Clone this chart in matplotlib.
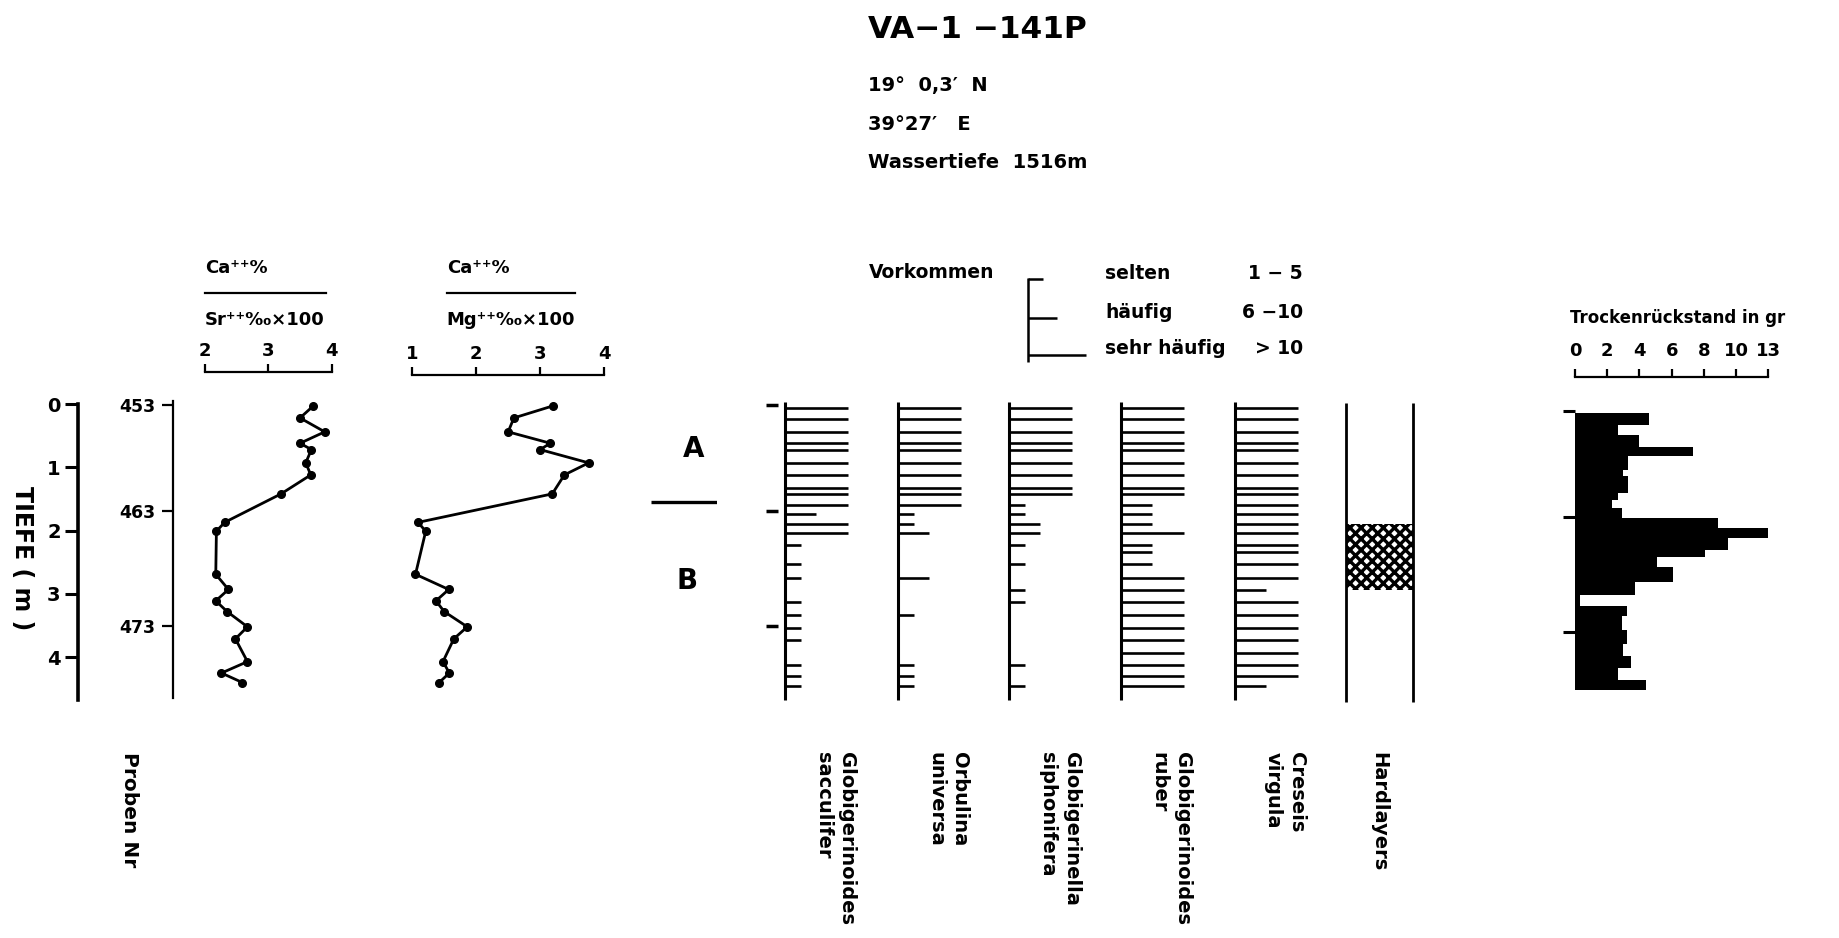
"""Kernprofil VA-1-141P: Geochemie, Faunenvorkommen, Hardlayers und Trockenrückstand."""
import matplotlib
matplotlib.use("Agg")
import matplotlib.pyplot as plt
import numpy as np
from matplotlib.lines import Line2D

plt.rcParams["font.family"] = ["DejaVu Sans"]
plt.rcParams["font.weight"] = "bold"
plt.rcParams["hatch.linewidth"] = 2.4
plt.rcParams["hatch.color"] = "black"

# --- Daten ------------------------------------------------------------------
DEPTH_TICKS = [0, 1, 2, 3, 4]
PROBEN_LABELS = ["453", "463", "473"]
PROBEN_TICK_DEPTH = [0.02, 1.69, 3.51]

# Tiefe jeder Probe (m), Proben 453 ... 478
SAMPLE_DEPTH = [0.06, 0.24, 0.44, 0.62, 0.73, 0.93, 1.12, 1.33, 1.42, 1.60,
                1.74, 1.90, 2.04, 2.23, 2.34, 2.53, 2.75, 2.94, 3.13, 3.33,
                3.54, 3.73, 3.93, 4.12, 4.30, 4.45]

# Geochemie (Teilmenge der Proben)
CHEM_DEPTH = [0.03, 0.22, 0.44, 0.62, 0.72, 0.93, 1.12, 1.42, 1.87, 2.01,
              2.69, 2.93, 3.11, 3.28, 3.52, 3.71, 4.07, 4.25, 4.40]
SR_RATIO = [3.71, 3.50, 3.89, 3.50, 3.68, 3.59, 3.67, 3.20, 2.31, 2.18,
            2.17, 2.37, 2.17, 2.35, 2.67, 2.48, 2.67, 2.26, 2.59]
MG_RATIO = [3.20, 2.59, 2.50, 3.16, 3.00, 3.76, 3.38, 3.19, 1.09, 1.21,
            1.05, 1.57, 1.37, 1.50, 1.86, 1.65, 1.48, 1.58, 1.42]

# Vorkommen: 0 = fehlt, 1 = selten, 2 = häufig, 3 = sehr häufig
SACCULIFER = [3, 3, 3, 3, 3, 3, 3, 3, 3, 3, 2, 3, 3, 1, 0, 1, 1, 0, 1, 1, 1, 1, 0, 1, 1, 1]
UNIVERSA = [3, 3, 3, 3, 3, 3, 3, 3, 3, 3, 1, 1, 2, 0, 0, 0, 2, 0, 0, 1, 0, 0, 0, 1, 1, 1]
SIPHONIFERA = [3, 3, 3, 3, 3, 3, 3, 3, 3, 1, 1, 2, 2, 1, 0, 1, 0, 1, 1, 0, 0, 0, 0, 1, 0, 1]
RUBER = [3, 3, 3, 3, 3, 3, 3, 3, 3, 2, 2, 2, 3, 2, 2, 2, 3, 3, 3, 3, 3, 3, 3, 3, 3, 3]
CRESEIS = [3, 3, 3, 3, 3, 3, 3, 3, 3, 3, 3, 3, 3, 3, 3, 3, 3, 2, 3, 3, 3, 3, 3, 3, 3, 2]
SPECIES = ["Globigerinoides\nsacculifer", "Orbulina\nuniversa",
           "Globigerinella\nsiphonifera", "Globigerinoides\nruber",
           "Creseis\nvirgula"]

LEGEND_CLASSES = ["selten", "häufig", "sehr häufig"]
LEGEND_RANGES = ["1 − 5", "6 −10", "> 10"]

HARD_TOP, HARD_BOTTOM = 1.89, 2.94
ZONE_BOUNDARY = 1.55

# Trockenrückstand (gr), Stufen zwischen TR_EDGES
TR_EDGES = [0.05, 0.24, 0.39, 0.58, 0.72, 0.95, 1.05, 1.31, 1.42, 1.55, 1.70,
            1.86, 2.03, 2.21, 2.32, 2.48, 2.71, 2.92, 3.10, 3.26, 3.48, 3.69,
            3.89, 4.08, 4.27, 4.42]
TR_VALUES = [4.6, 2.7, 4.0, 7.3, 3.3, 3.0, 3.3, 2.7, 2.3, 2.9, 8.9, 13.0, 9.5,
             8.1, 5.1, 6.1, 3.7, 0.3, 3.2, 2.9, 3.2, 3.0, 3.5, 2.7, 4.4]
TR_TICKS = [0, 2, 4, 6, 8, 10, 13]

# --- Layout ------------------------------------------------------------------
W, H = 1840, 938
S = 63.3          # Pixel pro Meter
Y0 = 404          # Pixelzeile von Tiefe 0
LEN = {1: 16, 2: 31, 3: 63}   # Strichlänge je Häufigkeitsklasse (px)

fig = plt.figure(figsize=(W / 100, H / 100), dpi=100)
fig.patch.set_facecolor("white")


def px_axes(x0, y0, x1, y1):
    return fig.add_axes([x0 / W, 1 - y1 / H, (x1 - x0) / W, (y1 - y0) / H])


def depth_axes(x0, x1, top=395, bottom=705, zero=Y0):
    ax = px_axes(x0, top, x1, bottom)
    ax.set_ylim((bottom - zero) / S, (top - zero) / S)
    for sp in ax.spines.values():
        sp.set_visible(False)
    ax.set_xticks([])
    ax.set_yticks([])
    ax.patch.set_alpha(0)
    return ax


def ftext(x, y, s, **kw):
    kw.setdefault("va", "center")
    return fig.text(x / W, 1 - y / H, s, **kw)


def fline(x0, x1, y, lw=1.6):
    fig.add_artist(Line2D([x0 / W, x1 / W], [1 - y / H, 1 - y / H],
                          color="black", lw=lw))


# Titel und Kopfdaten
ftext(868, 30, "VA−1 −141P", fontsize=22.5)
ftext(868, 85, "19°  0,3′  N", fontsize=14)
ftext(868, 124, "39°27′   E", fontsize=14)
ftext(868, 163, "Wassertiefe  1516m", fontsize=14)

# Tiefenachse
ax = depth_axes(78, 80)
ax.spines["left"].set_visible(True)
ax.spines["left"].set_linewidth(2.6)
ax.spines["left"].set_bounds(0, 4.67)
ax.set_yticks(DEPTH_TICKS)
ax.tick_params(axis="y", length=9.5, width=2.2, labelsize=14, pad=3)
ftext(22, 558, "TIEFE ( m )", fontsize=17, rotation=-90, ha="center")

# Probennummern
ax = depth_axes(173, 175)
ax.spines["left"].set_visible(True)
ax.spines["left"].set_linewidth(1.6)
ax.spines["left"].set_bounds(-0.04, 4.64)
ax.set_yticks(PROBEN_TICK_DEPTH)
ax.set_yticklabels(PROBEN_LABELS)
ax.tick_params(axis="y", length=8, width=1.6, labelsize=12.5, pad=5)
ftext(130, 752, "Proben Nr", fontsize=14.5, rotation=-90, ha="center", va="top")


def ratio_panel(x0, x1, lim, ticks, values, top, header_x, header_x1, denom):
    ax = depth_axes(x0, x1, top=top)
    ax.set_xlim(*lim)
    ax.spines["top"].set_visible(True)
    ax.spines["top"].set_linewidth(1.6)
    ax.xaxis.tick_top()
    ax.set_xticks(ticks)
    ax.tick_params(axis="x", direction="out", length=5.5, width=1.6,
                   labelsize=13, pad=3)
    ax.plot(values, CHEM_DEPTH, "-o", color="black", lw=2.0, ms=5.5,
            clip_on=False)
    ftext(header_x, 268, "Ca⁺⁺%", fontsize=13)
    fline(header_x, header_x1, 292.7)
    ftext(header_x, 320, denom, fontsize=13)


ratio_panel(205, 331.7, (2, 4), [2, 3, 4], SR_RATIO, 372, 205, 325.7, "Sr⁺⁺‰×100")
ratio_panel(412.3, 604, (1, 4), [1, 2, 3, 4], MG_RATIO, 375, 446.7, 575, "Mg⁺⁺‰×100")

# Zonen A / B
ax = depth_axes(651, 717)
ax.set_xlim(0, 1)
ax.hlines(ZONE_BOUNDARY, 0, 1, color="black", lw=2.4)
ax.text(0.64, 0.71, "A", fontsize=20, ha="center", va="center")
ax.text(0.55, 2.80, "B", fontsize=20, ha="center", va="center")

# Faunenspalten
COL_X = [785, 898, 1009.3, 1120.7, 1235]
for i, (x, counts, name) in enumerate(zip(
        COL_X, [SACCULIFER, UNIVERSA, SIPHONIFERA, RUBER, CRESEIS], SPECIES)):
    ax = depth_axes(x - 25, x + 70)
    ax.set_xlim(-25, 70)
    ax.vlines(0, -0.03, 4.68, color="black", lw=2.2)
    d = [dep for dep, c in zip(SAMPLE_DEPTH, counts) if c > 0]
    ln = [LEN[c] for c in counts if c > 0]
    ax.hlines(d, 0, ln, color="black", lw=1.9)
    if i == 0:
        ax.hlines(PROBEN_TICK_DEPTH, -19, -7, color="black", lw=2.5)
    ftext(x + 50, 752, name, fontsize=14, rotation=-90, ha="center",
          va="top", multialignment="left", linespacing=1.3)

# Hardlayers
ax = depth_axes(1346, 1413.3)
ax.set_xlim(0, 1)
ax.vlines([0, 1], -0.02, 4.70, color="black", lw=2.0, clip_on=False)
ax.fill_betweenx([HARD_TOP, HARD_BOTTOM], 0, 1, facecolor="white",
                 edgecolor="black", hatch="xxx", linewidth=0)
ftext(1379, 752, "Hardlayers", fontsize=14, rotation=-90, ha="center", va="top")

# Legende
lg = px_axes(1015, 265, 1100, 370)
lg.set_xlim(1015, 1100)
lg.set_ylim(370, 265)
lg.axis("off")
lg.vlines(1027.7, 278, 362, color="black", lw=1.8)
for yy, cls, rng, c in zip([279, 318, 355], LEGEND_CLASSES, LEGEND_RANGES, [1, 2, 3]):
    lg.hlines(yy, 1027.7, 1027.7 + LEN[c] * 0.93, color="black", lw=1.8)
    ftext(1105, yy - 6, cls, fontsize=13.5)
    ftext(1303, yy - 6, rng, fontsize=13.5, ha="right")
ftext(868.7, 272, "Vorkommen", fontsize=13.5)


# Trockenrückstand
def _fwd(v):
    v = np.asarray(v, dtype=float)
    return np.where(v <= 10, v, 10 + (v - 10) * 2 / 3)


def _inv(u):
    u = np.asarray(u, dtype=float)
    return np.where(u <= 10, u, 10 + (u - 10) * 1.5)


ax = depth_axes(1575, 1768.3, top=377.3, zero=410)
ax.set_xscale("function", functions=(_fwd, _inv))
ax.set_xlim(0, 13)
ax.spines["top"].set_visible(True)
ax.spines["top"].set_linewidth(1.6)
ax.xaxis.tick_top()
ax.set_xticks(TR_TICKS)
ax.set_xticklabels([str(t) for t in TR_TICKS])
ax.tick_params(axis="x", direction="out", length=5.5, width=1.6,
               labelsize=13, pad=7)
ax.stairs(TR_VALUES, TR_EDGES, orientation="horizontal", fill=True,
          color="black", baseline=0)
ax.vlines(0, TR_EDGES[0], TR_EDGES[-1], color="black", lw=1.6)
ax.hlines(PROBEN_TICK_DEPTH, -0.75, 0, color="black", lw=2.2, clip_on=False)
ftext(1570, 318, "Trockenrückstand in gr", fontsize=12)

fig.savefig("out.png", dpi=100, facecolor="white")
